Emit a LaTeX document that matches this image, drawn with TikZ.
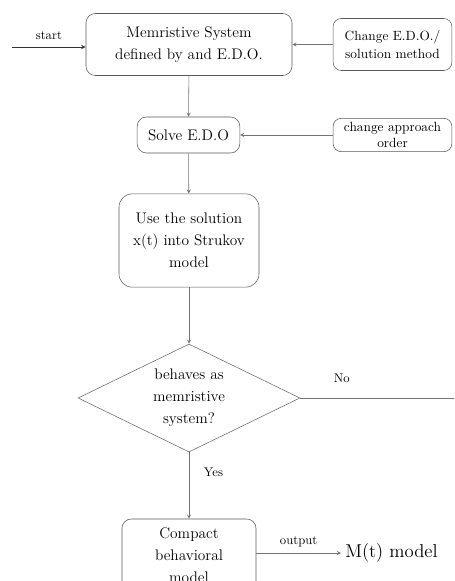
\documentclass[tikz,border=0pt]{standalone}
\usetikzlibrary{arrows, shapes.geometric}
\tikzset{
  blk/.style={draw=black!65, rounded corners=7pt, align=center, inner sep=2pt, font=\fontsize{11.5}{16.5}\selectfont},
  side/.style={blk, rounded corners=6pt, font=\fontsize{10}{13}\selectfont},
  dec/.style={diamond, draw=black!60, aspect=2.06, inner sep=0pt, align=center, minimum width=166.5pt, minimum height=81pt, font=\fontsize{11.5}{16.5}\selectfont},
  tra/.style={->, >=stealth, draw=black!55},
  lab/.style={font=\fontsize{9.5}{11}\selectfont, inner sep=1pt}
}
\begin{document}
\begin{tikzpicture}[x=0.75pt, y=-0.75pt]
	\useasboundingbox (0,0) rectangle (454,581);
	% main column
	\node[blk, minimum width=154.5pt, minimum height=46.5pt] (sys) at (189,44.5) {Memristive System\\defined by and E.D.O.};
	\node[blk, minimum width=77pt, minimum height=27pt] (solve) at (188.5,135) {Solve E.D.O};
	\node[blk, minimum width=105pt, minimum height=70pt, rounded corners=10pt] (use) at (189,240.5) {Use the solution\\x(t) into Strukov\\model};
	\node[dec] (beh) at (189,398) {behaves as\\memristive\\system?};
	\node[blk, minimum width=100.5pt, minimum height=54pt] (cmp) at (189,555) {Compact\\behavioral\\model};
	% side boxes
	\node[side, minimum width=89pt, minimum height=39pt] (chg) at (392.5,44.5) {Change E.D.O./\\solution method};
	\node[side, minimum width=89pt, minimum height=25pt, inner sep=1pt, font=\fontsize{10}{12}\selectfont] (ord) at (392.5,135) {change approach\\order};
	\node[anchor=west, inner sep=3pt, font=\fontsize{14}{16}\selectfont] (mt) at (341,553) {M(t) model};
	\coordinate (in) at (12,47);
	\coordinate (out) at (454,398);
	% connectors
	\draw[->, >=stealth, semithick, draw=black!80] (in) -- (in -| sys.west) node[lab, midway, above=4pt] {start};
	\draw[tra] (sys) -- (solve);
	\draw[tra] (solve) -- (use);
	\draw[tra] (use) -- (beh);
	\draw[tra] (beh) -- (cmp) node[lab, pos=0.3, right=10pt] {Yes};
	\draw[draw=black!55] (beh.east) -- (out) node[lab, pos=0.27, above=10pt] {No};
	\draw[tra] (chg) -- (sys);
	\draw[tra] (ord) -- (solve);
	\draw[tra] (cmp.east |- mt) -- (mt) node[lab, midway, above=3pt] {output};
\end{tikzpicture}
\end{document}
